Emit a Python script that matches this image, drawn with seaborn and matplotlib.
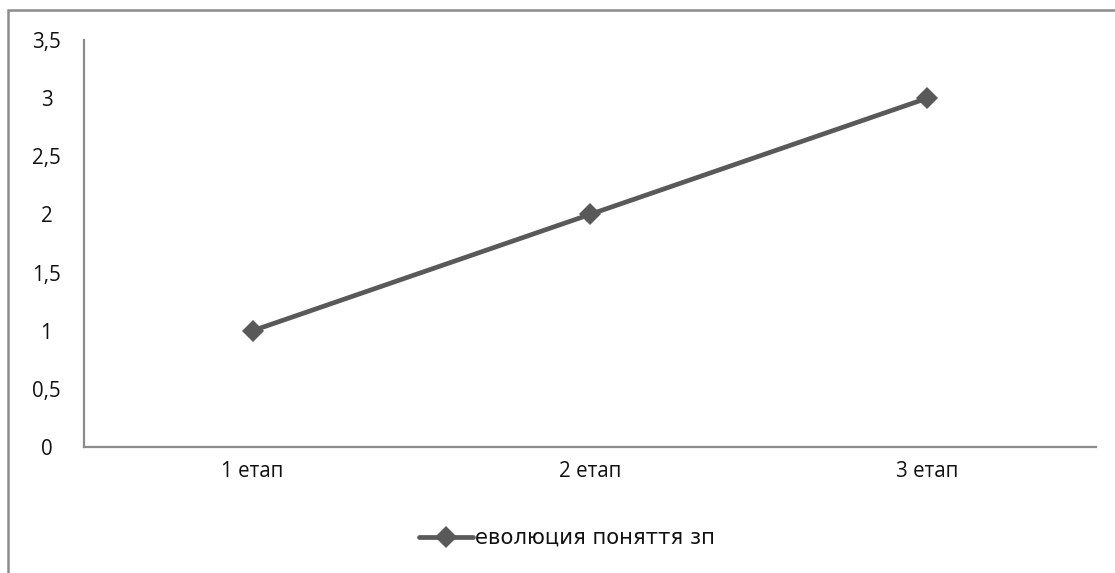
import matplotlib
matplotlib.use("Agg")
import matplotlib.pyplot as plt
import matplotlib.patches as mpatches
import pandas as pd
import seaborn as sns

# Дані з графіка
етапи = ['1 етап', '2 етап', '3 етап']
значення = [1, 2, 3]
назва_ряду = 'еволюция поняття зп'
y_мітки = ['0', '0,5', '1', '1,5', '2', '2,5', '3', '3,5']
y_значення = [0, 0.5, 1, 1.5, 2, 2.5, 3, 3.5]

df = pd.DataFrame({'етап': етапи, 'значення': значення})

sns.set_style('white')
plt.rcParams['font.family'] = ['Open Sans', 'DejaVu Sans']

fig = plt.figure(figsize=(11.15, 5.73), dpi=100)
ax = fig.add_axes([84 / 1115, 1 - 447 / 573, (1096 - 84) / 1115, (447 - 40) / 573])

sns.lineplot(data=df, x='етап', y='значення', ax=ax, color='#595959',
             linewidth=3.4, marker='D', markersize=11.5, markeredgewidth=0,
             label=назва_ряду, sort=False)

ax.set_xlim(-0.5, 2.5)
ax.set_ylim(0, 3.5)
ax.set_yticks(y_значення)
ax.set_yticklabels(y_мітки)
ax.set_xlabel('')
ax.set_ylabel('')
ax.tick_params(axis='both', length=0, labelsize=14.8, colors='#111111')
ax.tick_params(axis='y', pad=27)
ax.tick_params(axis='x', pad=10)
for lbl in ax.get_yticklabels():
    lbl.set_horizontalalignment('center')

for s in ['top', 'right']:
    ax.spines[s].set_visible(False)
for s in ['left', 'bottom']:
    ax.spines[s].set_color('#8c8c8c')
    ax.spines[s].set_linewidth(1.6)

leg = ax.legend(loc='center', bbox_to_anchor=(567 / 1115, 1 - 538 / 573),
                bbox_transform=fig.transFigure, frameon=False,
                handlelength=2.5, handletextpad=0.1,
                prop={'family': ['DejaVu Sans'], 'size': 15.3})
for t in leg.get_texts():
    t.set_color('#111111')

# рамка навколо діаграми
fig.patches.append(mpatches.Rectangle((8 / 1115, -0.1), 1.2, 1 - 10 / 573 + 0.1,
                                      transform=fig.transFigure, fill=False,
                                      edgecolor='#8c8c8c', linewidth=1.8))

fig.savefig('out.png', dpi=100)
